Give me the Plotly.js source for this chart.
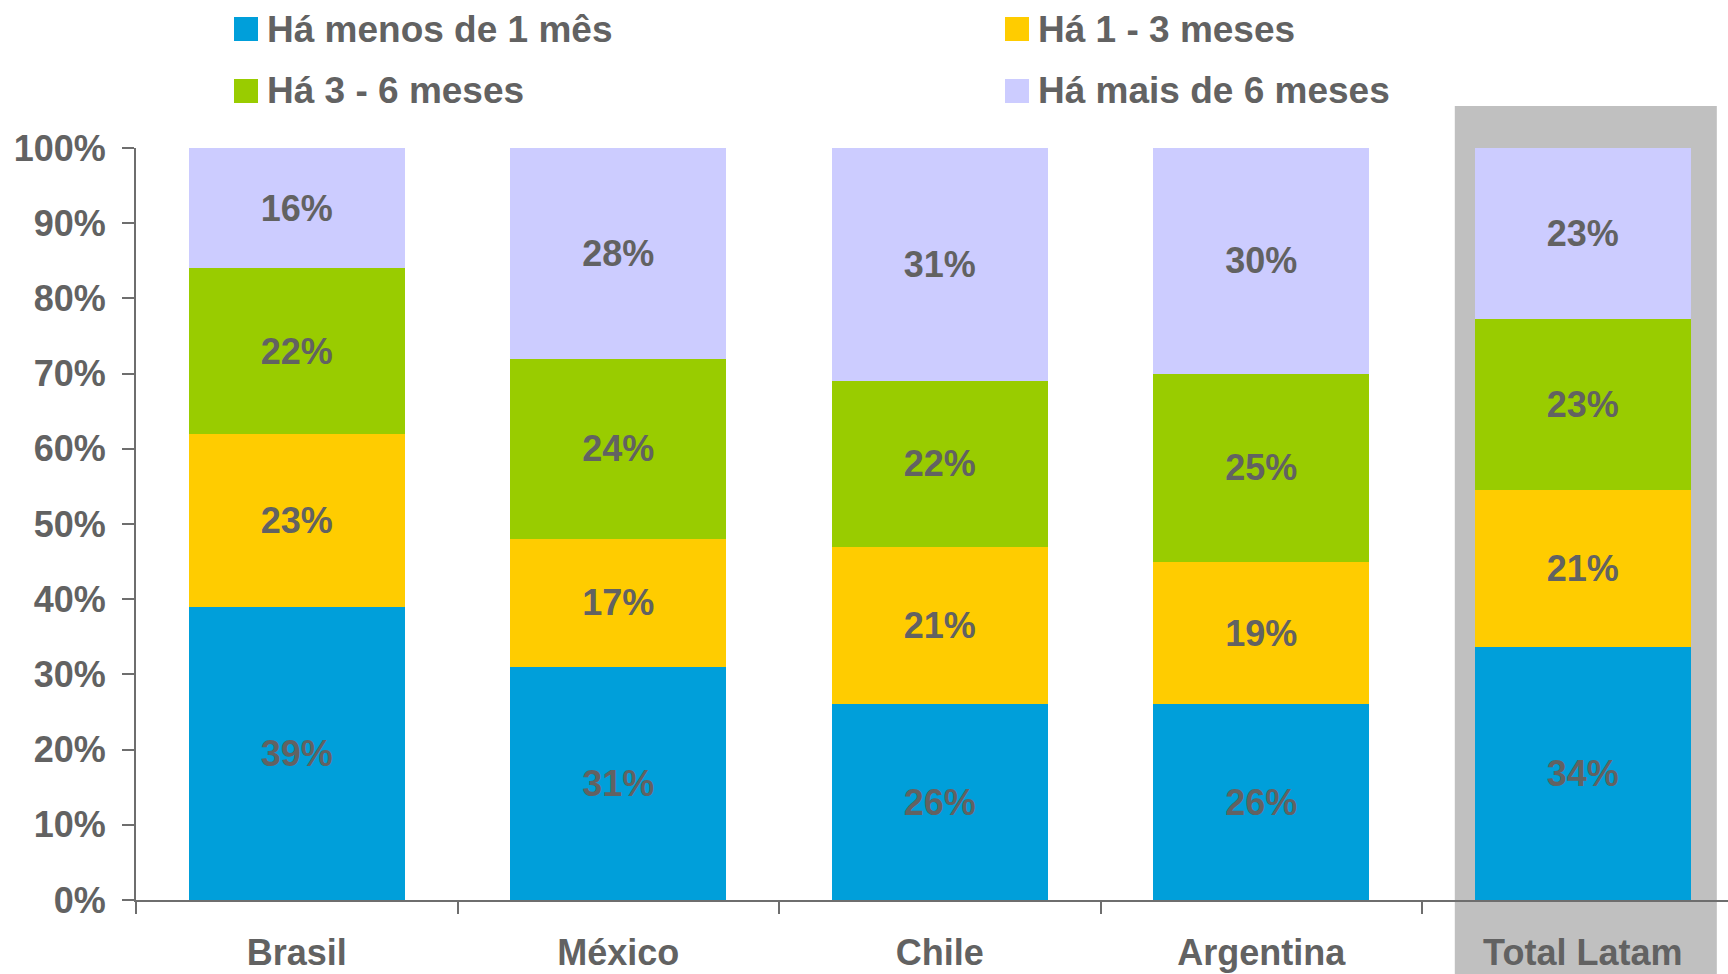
<!DOCTYPE html>
<html>
<head>
<meta charset="utf-8">
<script src="https://cdn.plot.ly/plotly-3.0.1.min.js"></script>
<style>
  html, body { margin: 0; padding: 0; background: #ffffff; }
  #chart { width: 1728px; height: 974px; }
</style>
</head>
<body>
<div id="chart"></div>
<script>
// ---- Data ----
const categories = ["Brasil", "México", "Chile", "Argentina", "Total Latam"];
const seriesNames = ["Há menos de 1 mês", "Há 1 - 3 meses", "Há 3 - 6 meses", "Há mais de 6 meses"];
const menos1Mes  = [39, 31, 26, 26, 33.7];
const de1a3Meses = [23, 17, 21, 19, 20.8];
const de3a6Meses = [22, 24, 22, 25, 22.7];
const mais6Meses = [16, 28, 31, 30, 22.8];
const yTickVals  = [0, 10, 20, 30, 40, 50, 60, 70, 80, 90, 100];

// ---- Styles ----
const seriesValues = [menos1Mes, de1a3Meses, de3a6Meses, mais6Meses];
const seriesColors = ["#009FDA", "#FFCC00", "#99CC00", "#CCCCFF"];
const textColor = "#626262";
const axisColor = "#6e6e6e";
const FONT = "'Liberation Sans', Arial, sans-serif";

const W = 1728, H = 974;
const M = { l: 136, r: 0, t: 148, b: 74 };
const plotW = W - M.l - M.r, plotH = H - M.t - M.b;
const px2x = (px) => (px - M.l) / plotW;
const px2y = (py) => (H - M.b - py) / plotH;

const traces = seriesValues.map((vals, i) => ({
  type: "bar",
  name: seriesNames[i],
  x: categories,
  y: vals,
  marker: { color: seriesColors[i], line: { width: 0 } },
  texttemplate: "%{y:.0f}%",
  textposition: "inside",
  insidetextanchor: "middle",
  textangle: 0,
  constraintext: "none",
  textfont: { family: FONT, size: 36, color: textColor, weight: "bold" },
  hoverinfo: "skip",
  showlegend: false
}));

// custom legend (2 x 2 grid), built from the names / colours arrays
const legendCols = [234, 1005];
const legendRows = [29, 91];
const shapes = [];
const annotations = [];
seriesNames.forEach((name, i) => {
  const cx = legendCols[i % 2];
  const cy = legendRows[Math.floor(i / 2)];
  shapes.push({
    type: "rect", xref: "paper", yref: "paper",
    x0: px2x(cx), x1: px2x(cx + 24),
    y0: px2y(cy - 12), y1: px2y(cy + 12),
    fillcolor: seriesColors[i], line: { width: 0 }, layer: "above"
  });
  annotations.push({
    xref: "paper", yref: "paper",
    x: px2x(cx + 31), y: px2y(cy),
    xanchor: "left", yanchor: "middle",
    text: name, showarrow: false,
    font: { family: FONT, size: 37, color: textColor, weight: "bold" }
  });
});

// grey highlight behind "Total Latam"
const lastIdx = categories.length - 1;
shapes.push({
  type: "rect", xref: "x", yref: "paper",
  x0: lastIdx - 0.398, x1: lastIdx + 0.417,
  y0: -0.2, y1: px2y(106),
  fillcolor: "#C0C0C0", line: { width: 0 }, layer: "below"
});

const catWidthPx = 321.5;
const layout = {
  width: W, height: H,
  margin: M,
  paper_bgcolor: "#ffffff",
  plot_bgcolor: "rgba(0,0,0,0)",
  barmode: "stack",
  bargap: 0.328,
  showlegend: false,
  font: { family: FONT, color: textColor, size: 36, weight: "bold" },
  xaxis: {
    type: "category",
    range: [-0.5, -0.5 + plotW / catWidthPx],
    showline: true, linecolor: axisColor, linewidth: 2,
    ticks: "outside", tickson: "boundaries", ticklen: 12, tickwidth: 2, tickcolor: axisColor,
    ticklabelstandoff: 20,
    tickfont: { family: FONT, size: 36, color: textColor, weight: "bold" },
    showgrid: false, zeroline: false, automargin: false, fixedrange: true
  },
  yaxis: {
    range: [0, 100],
    tickvals: yTickVals,
    ticktext: yTickVals.map(v => v + "%"),
    showline: true, linecolor: axisColor, linewidth: 2,
    ticks: "outside", ticklen: 12, tickwidth: 2, tickcolor: axisColor,
    ticklabelstandoff: 9,
    tickfont: { family: FONT, size: 36, color: textColor, weight: "bold" },
    showgrid: false, zeroline: false, automargin: false, fixedrange: true
  },
  shapes: shapes,
  annotations: annotations
};

Plotly.newPlot("chart", traces, layout, { staticPlot: true, displayModeBar: false });
</script>
</body>
</html>
